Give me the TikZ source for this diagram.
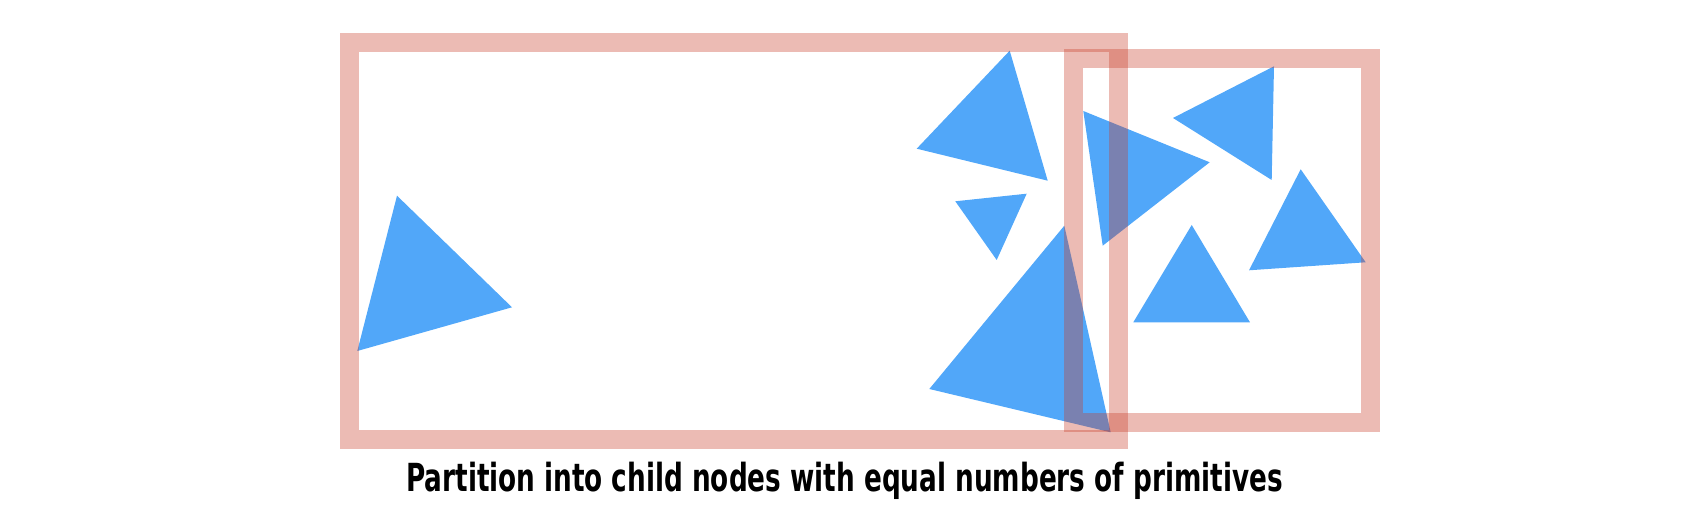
\documentclass[tikz,border=0pt]{standalone}
\usepackage{fontspec}
\usepackage{graphicx}
\usepackage{xcolor}
\newfontfamily\capfont{DejaVu Sans Condensed}
\definecolor{triblue}{RGB}{81,167,249}
\definecolor{partred}{RGB}{200,60,40}

\begin{document}
\begin{tikzpicture}[x=0.01cm, y=-0.01cm,
  tri/.style={fill=triblue, draw=none},
  part/.style={draw=partred, draw opacity=0.35, line width=0.19cm, fill=none},
  caption/.style={anchor=base, inner sep=0pt, font=\capfont\bfseries\fontsize{11pt}{13pt}\selectfont}
]
\useasboundingbox (0,0) rectangle (1696,519);
% primitives
\fill[tri] (397,195.7) -- (512,307.3) -- (357.3,351) -- cycle;
\fill[tri] (1009.7,50.7) -- (916.7,148.7) -- (1047.7,180.7) -- cycle;
\fill[tri] (955.3,201.3) -- (1026.7,193.7) -- (996.7,260) -- cycle;
\fill[tri] (1064.3,225.7) -- (929.3,389) -- (1110.7,432.3) -- cycle;
\fill[tri] (1083.3,111) -- (1209.7,162.3) -- (1102.7,245.7) -- cycle;
\fill[tri] (1274,66.3) -- (1173,118) -- (1271.7,180) -- cycle;
\fill[tri] (1300.7,169.3) -- (1249,270.3) -- (1365.7,262.3) -- cycle;
\fill[tri] (1191.7,225) -- (1133.3,322.3) -- (1250,322.3) -- cycle;
% child nodes
\draw[part] (349.5,42.5) rectangle (1118.4,439.5);
\draw[part] (1073.8,58.8) rectangle (1370.5,422.8);
\node[caption] (cap) at (844.5,491.5) {\resizebox{8.76cm}{\height}{Partition into child nodes with equal numbers of primitives}};
\end{tikzpicture}
\end{document}
